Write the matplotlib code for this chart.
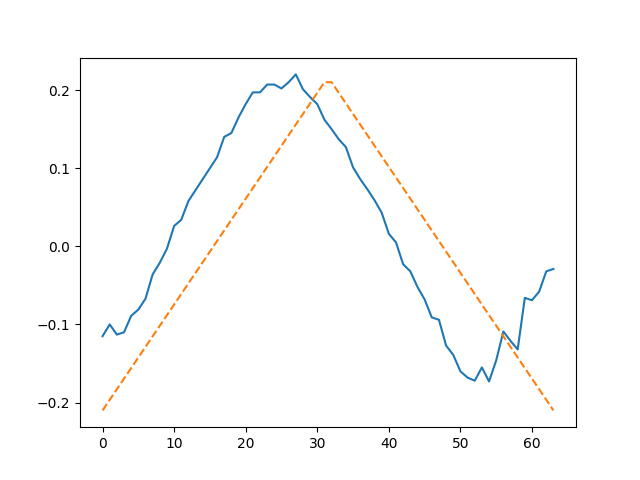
import matplotlib
matplotlib.use("Agg")
import matplotlib.pyplot as plt

x_signal = list(range(64))
signal = [-0.115, -0.100, -0.113, -0.110, -0.089, -0.081, -0.067, -0.036, -0.021, -0.003,
          0.026, 0.034, 0.058, 0.072, 0.086, 0.100, 0.114, 0.140, 0.145, 0.165,
          0.182, 0.197, 0.197, 0.207, 0.207, 0.202, 0.210, 0.220, 0.201, 0.191,
          0.182, 0.162, 0.150, 0.137, 0.127, 0.101, 0.086, 0.073, 0.059, 0.043,
          0.016, 0.005, -0.023, -0.032, -0.052, -0.068, -0.091, -0.094, -0.127, -0.139,
          -0.160, -0.168, -0.172, -0.155, -0.173, -0.146, -0.109, -0.121, -0.132, -0.066,
          -0.069, -0.058, -0.032, -0.029]

x_tri = [0, 31, 32, 63]
tri = [-0.21, 0.21, 0.21, -0.21]

fig, ax = plt.subplots(figsize=(6.4, 4.8), dpi=100)
ax.plot(x_signal, signal)
ax.plot(x_tri, tri, linestyle="--")
fig.savefig("out.png")
